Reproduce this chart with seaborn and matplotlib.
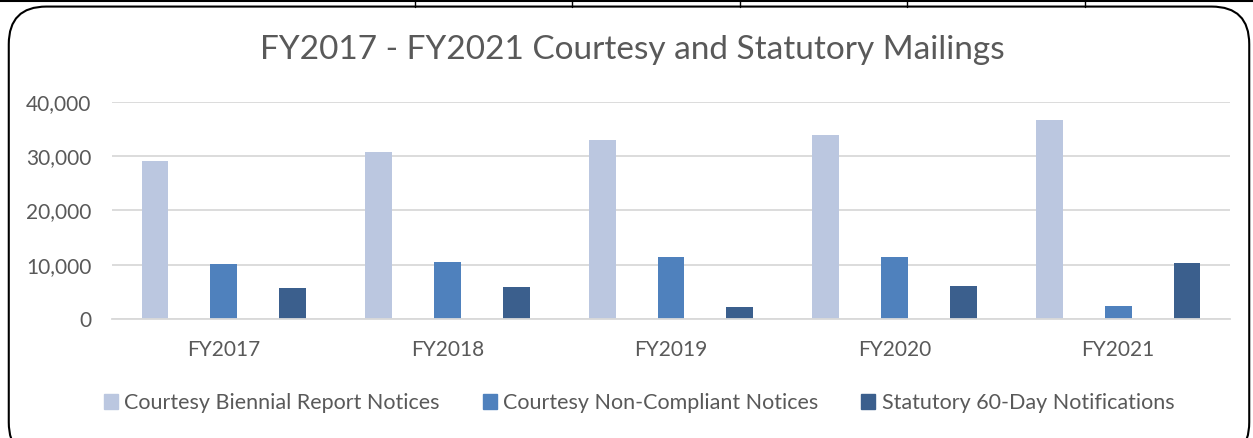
import pandas as pd
import matplotlib.pyplot as plt
import seaborn as sns
from matplotlib.patches import FancyBboxPatch
from matplotlib.lines import Line2D

# values
years = ["FY2017", "FY2018", "FY2019", "FY2020", "FY2021"]
biennial = [29100, 30700, 33000, 33900, 36600]
non_compliant = [10200, 10500, 11400, 11400, 2400]
statutory = [5800, 5900, 2200, 6100, 10300]
series_names = ["Courtesy Biennial Report Notices",
                "Courtesy Non-Compliant Notices",
                "Statutory 60-Day Notifications"]
colors = ["#BBC7E0", "#4F81BD", "#3B5F8D"]

df = pd.DataFrame({"year": years * 3,
                   "series": [series_names[0]] * 5 + [series_names[1]] * 5 + [series_names[2]] * 5,
                   "count": biennial + non_compliant + statutory})

sns.set_style("white")
plt.rcParams["font.family"] = ["Lato", "DejaVu Sans"]
text_col = "#595959"

fig = plt.figure(figsize=(12.53, 4.38), dpi=100)
ax = fig.add_axes([0.0894, 0.2717, 0.8922, 0.4955])

sns.barplot(data=df, x="year", y="count", hue="series", palette=colors,
            saturation=1, width=0.924, gap=0.61, ax=ax, legend=False,
            edgecolor="none")

ax.set_ylim(0, 40000)
ax.set_yticks([0, 10000, 20000, 30000, 40000])
ax.set_yticklabels([f"{v:,}" for v in [0, 10000, 20000, 30000, 40000]])
ax.set_xlim(-0.5, 4.5)
ax.yaxis.grid(True, color="#D9D9D9", linewidth=1.3)
ax.set_axisbelow(True)
for s in ["top", "right", "left"]:
    ax.spines[s].set_visible(False)
ax.spines["bottom"].set_color("#D9D9D9")
ax.spines["bottom"].set_linewidth(1.3)
ax.tick_params(axis="both", length=0, labelsize=15, colors=text_col)
ax.tick_params(axis="x", pad=15)
ax.tick_params(axis="y", pad=15)
ax.set_xlabel("")
ax.set_ylabel("")

fig.text(0.505, 0.885, "FY2017 - FY2021 Courtesy and Statutory Mailings",
         ha="center", va="center", fontsize=24, color=text_col)

handles = [plt.Rectangle((0, 0), 1, 1, color=c) for c in colors]
fig.legend(handles, series_names, loc="center", bbox_to_anchor=(0.51, 0.08),
           ncol=3, frameon=False, fontsize=15.5, handlelength=0.65, handleheight=0.65,
           handletextpad=0.3, columnspacing=2.0, labelcolor=text_col)

# rounded chart border and the table lines above it
fig.patches.append(FancyBboxPatch((0.007, -0.05), 0.99, 1.035,
                                  boxstyle="round,pad=0,rounding_size=0.03",
                                  transform=fig.transFigure, fill=False,
                                  edgecolor="black", linewidth=1.5,
                                  mutation_aspect=1253 / 438))
fig.lines.append(Line2D([0, 1], [0.997, 0.997], transform=fig.transFigure,
                        color="black", linewidth=1.5))
for xp in [415, 572, 740, 907, 1085]:
    fig.lines.append(Line2D([xp / 1253, xp / 1253], [0.985, 1.0],
                            transform=fig.transFigure, color="black", linewidth=1))

fig.savefig("out.png", dpi=100)
